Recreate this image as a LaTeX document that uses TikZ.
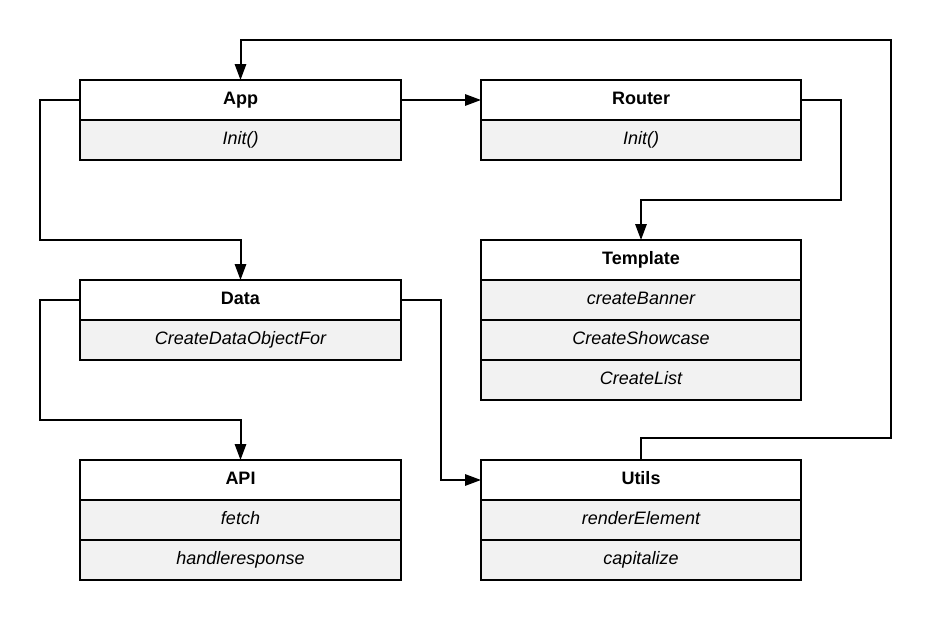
\documentclass[tikz,border=0pt]{standalone}
\usepackage{fontspec}
\setmainfont{Liberation Sans}
\usetikzlibrary{arrows.meta,calc}
\definecolor{rowgray}{HTML}{F2F2F2}
\tikzset{
  hdr/.style={draw, line width=1.5pt, minimum width=240pt, minimum height=30pt, inner sep=0pt, outer sep=0pt, text height=10pt, text depth=3pt, anchor=north west, fill=white, font=\fontsize{13.5}{16}\selectfont\bfseries},
  rowbox/.style={hdr, fill=rowgray, font=\fontsize{13.5}{16}\selectfont\itshape},
  conn/.style={line width=1.5pt, -{Triangle[length=12pt,width=8.5pt]}}
}
\begin{document}
\begin{tikzpicture}[x=0.75pt,y=-0.75pt]
\useasboundingbox (0,0) rectangle (931,621);
% App
\node[hdr, minimum width=240.75pt] (app) at (80,80) {App};
\node[rowbox, minimum width=240.75pt] (app1) at (80,120) {Init()};
% Router
\node[hdr] (router) at (481,80) {Router};
\node[rowbox] (router1) at (481,120) {Init()};
% Template
\node[hdr] (template) at (481,240) {Template};
\node[rowbox] (template1) at (481,280) {createBanner};
\node[rowbox] (template2) at (481,320) {CreateShowcase};
\node[rowbox] (template3) at (481,360) {CreateList};
% Data
\node[hdr, minimum width=240.75pt] (data) at (80,280) {Data};
\node[rowbox, minimum width=240.75pt] (data1) at (80,320) {CreateDataObjectFor};
% API
\node[hdr, minimum width=240.75pt] (api) at (80,460) {API};
\node[rowbox, minimum width=240.75pt] (api1) at (80,500) {fetch};
\node[rowbox, minimum width=240.75pt] (api2) at (80,540) {handleresponse};
% Utils
\node[hdr] (utils) at (481,460) {Utils};
\node[rowbox] (utils1) at (481,500) {renderElement};
\node[rowbox] (utils2) at (481,540) {capitalize};
% helper coordinates
\coordinate (c1) at (891,438);
\coordinate (c2) at (891,40);
% connectors
\draw[conn] (app.east) -- (router.west);
\draw[conn] (router.east) -- ([xshift=30pt]router.east) |- ([yshift=30pt]template.north) -- (template.north);
\draw[conn] (app.west) -- ([xshift=-30pt]app.west) |- ([yshift=30pt]data.north) -- (data.north);
\draw[conn] (data.west) -- ([xshift=-30pt]data.west) |- ([yshift=30pt]api.north) -- (api.north);
\draw[conn] (data.east) -- ([xshift=30pt]data.east) |- (utils.west);
\draw[conn] (utils.north) |- (c1) -- (c2) -| (app.north);
\end{tikzpicture}
\end{document}
